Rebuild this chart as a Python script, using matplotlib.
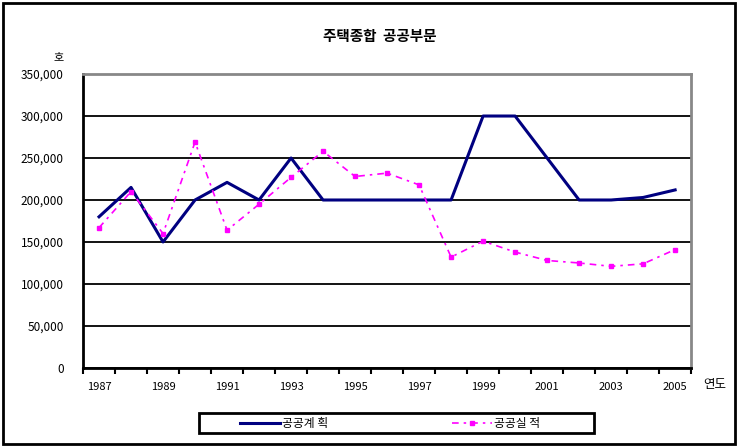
import numpy as np
import matplotlib
matplotlib.use('Agg')
import matplotlib.pyplot as plt
from matplotlib.patches import Rectangle

plt.rcParams['font.family'] = ['Noto Sans CJK KR', 'DejaVu Sans']

# 연도별 공공부문 계획/실적 (호)
years = list(range(1987, 2006))
plan = [180000, 215000, 150000, 200000, 221000, 200000, 250000, 200000, 200000, 200000,
        200000, 200000, 300000, 300000, 250000, 200000, 200000, 203000, 212000]
actual = [167000, 210000, 160000, 269000, 164000, 195000, 227000, 258000, 228000, 232000,
          218000, 132000, 151000, 138000, 128000, 125000, 121000, 124000, 141000]
yticks = list(range(0, 350001, 50000))

fig = plt.figure(figsize=(7.38, 4.46), dpi=100)
ax = fig.add_axes([0.1125, 0.175, 0.824, 0.659])

x = np.arange(len(years))
ax.plot(x, plan, color='#000080', lw=2.2, label='공공계 획', zorder=3)
ax.plot(x, actual, color='#FF00FF', lw=1.2, linestyle=(0, (4, 3, 1.5, 3)),
        marker='s', markersize=2.5, label='공공실 적', zorder=3)

ax.set_xlim(-0.5, len(years) - 0.5)
ax.set_ylim(0, 350000)
ax.set_yticks(yticks)
ax.set_yticklabels([f'{v:,}' for v in yticks], fontsize=8.5)
ax.yaxis.grid(True, color='black', lw=1.3)
ax.set_axisbelow(True)
ax.tick_params(axis='y', length=0, pad=14)

ax.set_xticks(x[::2])
ax.set_xticklabels([str(y) for y in years[::2]], fontsize=8)
ax.set_xticks(np.arange(-0.5, len(years), 1), minor=True)
ax.tick_params(axis='x', which='major', length=0, pad=10)
ax.tick_params(axis='x', which='minor', length=4, width=1.5, direction='out')

for side in ['left', 'bottom']:
    ax.spines[side].set_linewidth(2)
    ax.spines[side].set_color('black')
for side in ['top', 'right']:
    ax.spines[side].set_linewidth(2)
    ax.spines[side].set_color('#888888')

fig.text(0.515, 0.92, '주택종합  공공부문', ha='center', va='center', fontsize=10.5, fontweight='bold')
fig.text(0.079, 0.872, '호', ha='center', va='center', fontsize=8)
fig.text(0.968, 0.137, '연도', ha='center', va='center', fontsize=9)

# 범례: 항목은 테두리 없이, 상자는 따로 그림
fig.legend(loc='center', bbox_to_anchor=(0.528, 0.051), ncol=2,
           frameon=False, fontsize=8.5, handlelength=3.4,
           columnspacing=10.5, handletextpad=0.15)
fig.patches.append(Rectangle((0.2696, 0.029), 0.535, 0.045, transform=fig.transFigure,
                             fill=False, edgecolor='black', lw=2))

# 바깥 테두리
fig.patches.append(Rectangle((0.004, 0.004), 0.992, 0.99, transform=fig.transFigure,
                             fill=False, edgecolor='black', lw=2))

fig.savefig('out.png', dpi=100)
